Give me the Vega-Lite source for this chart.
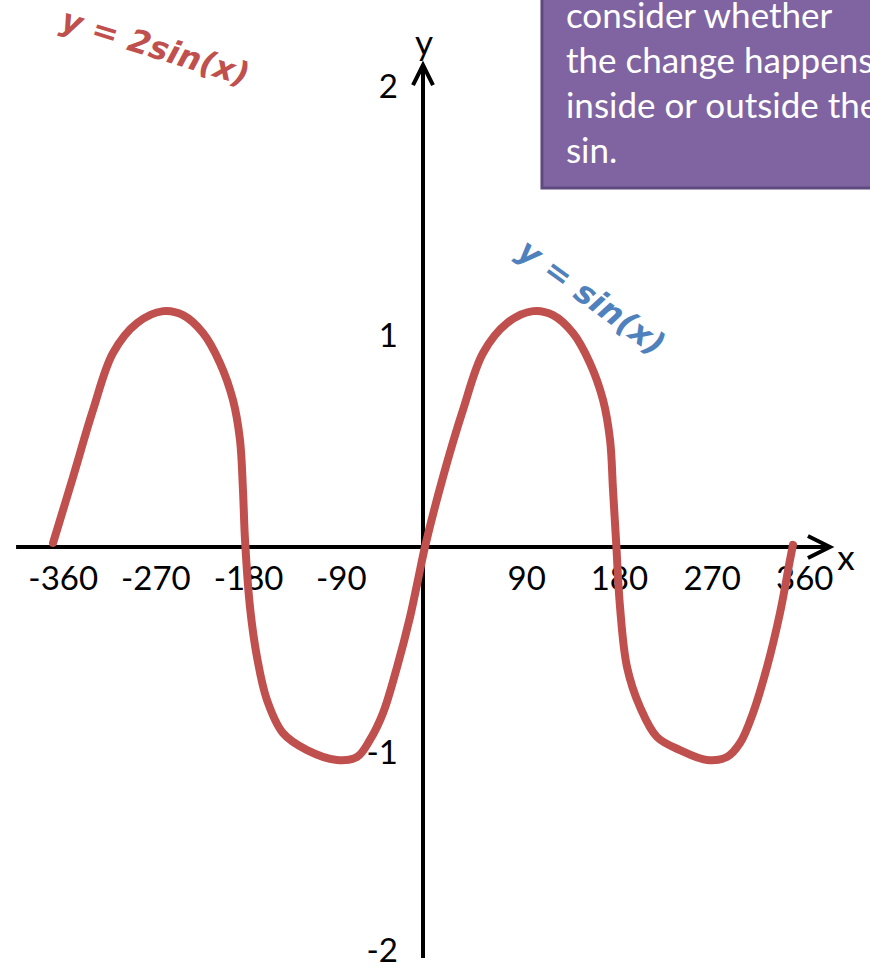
{
  "$schema": "https://vega.github.io/schema/vega-lite/v6.json",
  "width": 870,
  "height": 968,
  "padding": 0,
  "autosize": {"type": "none"},
  "background": "white",
  "config": {"view": {"stroke": null}},
  "encoding": {
    "x": {"type": "quantitative", "scale": {"domain": [-410.7, 434], "nice": false, "zero": false}, "axis": null},
    "y": {
      "type": "quantitative",
      "scale": {"domain": [-2, -1, 0, 1, 2], "range": [952, 754, 547, 337, 88], "nice": false, "zero": false},
      "axis": null
    }
  },
  "layer": [
    {
      "data": {"values": [{}]},
      "mark": {"type": "rect", "fill": "#8064A2", "stroke": "#5E4A7E", "strokeWidth": 3},
      "encoding": {
        "x": {"datum": 115.5, "type": "quantitative"},
        "x2": {"datum": 440},
        "y": {"datum": 1.598, "type": "quantitative"},
        "y2": {"datum": 2.5}
      }
    },
    {
      "data": {"values": [{}]},
      "mark": {
        "type": "text",
        "text": ["consider whether", "the change happens", "inside or outside the", "sin."],
        "font": "Lato",
        "fontSize": 35,
        "lineHeight": 45,
        "align": "left",
        "baseline": "alphabetic",
        "color": "white"
      },
      "encoding": {
        "x": {"datum": 138.8, "type": "quantitative"},
        "y": {"datum": 2.241, "type": "quantitative"}
      }
    },
    {
      "data": {"values": [{}]},
      "mark": {"type": "rule", "color": "black", "strokeWidth": 4},
      "encoding": {
        "x": {"datum": -395.1, "type": "quantitative"},
        "x2": {"datum": 394},
        "y": {"datum": 0, "type": "quantitative"}
      }
    },
    {
      "data": {"values": [{}]},
      "mark": {"type": "rule", "color": "black", "strokeWidth": 4},
      "encoding": {
        "x": {"datum": 0, "type": "quantitative"},
        "y": {"datum": -2.03, "type": "quantitative"},
        "y2": {"datum": 2.085}
      }
    },
    {
      "data": {"values": [{}]},
      "mark": {
        "type": "point",
        "shape": "M -1 -0.5 L 0 0 L -1 0.5",
        "size": 1936,
        "filled": false,
        "stroke": "black",
        "strokeWidth": 4,
        "opacity": 1
      },
      "encoding": {
        "x": {"datum": 395.1, "type": "quantitative"},
        "y": {"datum": 0, "type": "quantitative"}
      }
    },
    {
      "data": {"values": [{}]},
      "mark": {
        "type": "point",
        "shape": "M -0.5 1 L 0 0 L 0.5 1",
        "size": 1600,
        "filled": false,
        "stroke": "black",
        "strokeWidth": 4,
        "opacity": 1
      },
      "encoding": {
        "x": {"datum": 0, "type": "quantitative"},
        "y": {"datum": 2.092, "type": "quantitative"}
      }
    },
    {
      "data": {"values": [
        {"deg": -360, "label": "-360"},
        {"deg": -270, "label": "-270"},
        {"deg": -180, "label": "-180"},
        {"deg": -90, "label": "-90"},
        {"deg": 90, "label": "90"},
        {"deg": 180, "label": "180"},
        {"deg": 270, "label": "270"},
        {"deg": 360, "label": "360"}
      ]},
      "mark": {"type": "text", "font": "Lato", "fontSize": 33, "align": "center", "baseline": "middle", "dx": 11, "dy": 33, "color": "black"},
      "encoding": {
        "x": {"field": "deg", "type": "quantitative"},
        "y": {"datum": 0, "type": "quantitative"},
        "text": {"field": "label"}
      }
    },
    {
      "data": {"values": [
        {"val": 2, "label": "2"},
        {"val": 1, "label": "1"},
        {"val": -1, "label": "-1"},
        {"val": -2, "label": "-2"}
      ]},
      "mark": {"type": "text", "font": "Lato", "fontSize": 33, "align": "right", "baseline": "middle", "dx": -25, "color": "black"},
      "encoding": {
        "x": {"datum": 0, "type": "quantitative"},
        "y": {"field": "val", "type": "quantitative"},
        "text": {"field": "label"}
      }
    },
    {
      "data": {"values": [{}]},
      "mark": {"type": "text", "text": "x", "font": "Lato", "fontSize": 35, "align": "center", "baseline": "alphabetic", "color": "black"},
      "encoding": {
        "x": {"datum": 410.7, "type": "quantitative"},
        "y": {"datum": -0.111, "type": "quantitative"}
      }
    },
    {
      "data": {"values": [{}]},
      "mark": {"type": "text", "text": "y", "font": "Lato", "fontSize": 35, "align": "center", "baseline": "alphabetic", "color": "black"},
      "encoding": {
        "x": {"datum": 1, "type": "quantitative"},
        "y": {"datum": 2.133, "type": "quantitative"}
      }
    },
    {
      "data": {"values": [
        {"deg": -359.2, "y": 0.019},
        {"deg": -339.8, "y": 0.333},
        {"deg": -320.4, "y": 0.652},
        {"deg": -301.0, "y": 0.924},
        {"deg": -277.7, "y": 1.056},
        {"deg": -252.4, "y": 1.104},
        {"deg": -233.0, "y": 1.088},
        {"deg": -213.6, "y": 1.016},
        {"deg": -197.1, "y": 0.876},
        {"deg": -184.5, "y": 0.700},
        {"deg": -177.7, "y": 0.510},
        {"deg": -174.8, "y": 0.271},
        {"deg": -172.8, "y": 0.033},
        {"deg": -168.0, "y": -0.290},
        {"deg": -161.2, "y": -0.531},
        {"deg": -151.5, "y": -0.739},
        {"deg": -135.9, "y": -0.899},
        {"deg": -112.6, "y": -0.981},
        {"deg": -83.5, "y": -1.030},
        {"deg": -64.1, "y": -1.015},
        {"deg": -51.5, "y": -0.932},
        {"deg": -38.8, "y": -0.802},
        {"deg": -25.2, "y": -0.580},
        {"deg": -12.6, "y": -0.338},
        {"deg": -2.9, "y": -0.111},
        {"deg": 1.9, "y": 0.0},
        {"deg": 19.4, "y": 0.333},
        {"deg": 38.8, "y": 0.652},
        {"deg": 58.3, "y": 0.924},
        {"deg": 81.6, "y": 1.056},
        {"deg": 106.8, "y": 1.104},
        {"deg": 126.2, "y": 1.088},
        {"deg": 145.6, "y": 1.016},
        {"deg": 162.1, "y": 0.876},
        {"deg": 174.8, "y": 0.700},
        {"deg": 181.6, "y": 0.510},
        {"deg": 184.5, "y": 0.271},
        {"deg": 187.4, "y": 0.033},
        {"deg": 191.3, "y": -0.290},
        {"deg": 198.1, "y": -0.580},
        {"deg": 210.7, "y": -0.773},
        {"deg": 227.2, "y": -0.918},
        {"deg": 249.5, "y": -0.981},
        {"deg": 275.7, "y": -1.030},
        {"deg": 295.1, "y": -1.015},
        {"deg": 307.8, "y": -0.947},
        {"deg": 320.4, "y": -0.802},
        {"deg": 334.0, "y": -0.580},
        {"deg": 346.6, "y": -0.319},
        {"deg": 356.3, "y": -0.063},
        {"deg": 359.2, "y": 0.010}
      ]},
      "mark": {"type": "line", "interpolate": "catmull-rom", "color": "#C0504D", "strokeWidth": 8, "strokeCap": "round", "strokeJoin": "round"},
      "encoding": {
        "x": {"field": "deg", "type": "quantitative"},
        "y": {"field": "y", "type": "quantitative"}
      }
    },
    {
      "data": {"values": [{}]},
      "mark": {"type": "text", "text": "y = 2sin(x)", "font": "DejaVu Sans", "fontSize": 32, "fontWeight": "bold", "fontStyle": "italic", "angle": 17, "align": "center", "baseline": "middle", "color": "#C0504D"},
      "encoding": {
        "x": {"datum": -260.2, "type": "quantitative"},
        "y": {"datum": 2.161, "type": "quantitative"}
      }
    },
    {
      "data": {"values": [{}]},
      "mark": {"type": "text", "text": "y = sin(x)", "font": "DejaVu Sans", "fontSize": 32, "fontWeight": "bold", "fontStyle": "italic", "angle": 36, "align": "center", "baseline": "middle", "color": "#4F81BD"},
      "encoding": {
        "x": {"datum": 163.1, "type": "quantitative"},
        "y": {"datum": 1.157, "type": "quantitative"}
      }
    }
  ]
}
